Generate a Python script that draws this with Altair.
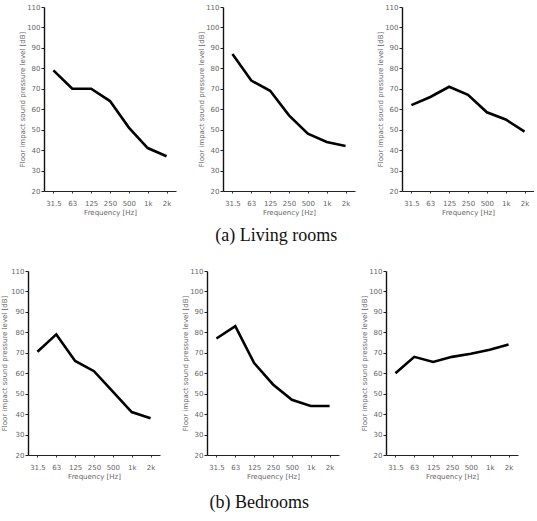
import altair as alt
import pandas as pd

freqs = ["31.5", "63", "125", "250", "500", "1k", "2k"]
living_1 = [79, 70, 70, 64, 51, 41, 37]
living_2 = [87, 74, 69, 57, 48, 44, 42]
living_3 = [62, 66, 71, 67, 58.5, 55, 49]
bedroom_1 = [70.5, 79, 66, 61, 51, 41, 38]
bedroom_2 = [77, 83, 65, 54.5, 47, 44, 44]
bedroom_3 = [60, 68, 65.5, 68, 69.5, 71.5, 74]
y_ticks = [20, 30, 40, 50, 60, 70, 80, 90, 100, 110]
y_title = "Floor impact sound pressure level [dB]"
x_title = "Frequency [Hz]"
captions = ["(a) Living rooms", "(b) Bedrooms"]

series = {"a1": living_1, "a2": living_2, "a3": living_3,
          "b1": bedroom_1, "b2": bedroom_2, "b3": bedroom_3}
rows = []
for key, vals in series.items():
    for f, v in zip(freqs, vals):
        rows.append({"panel": key, "freq": f, "level": v})
df = pd.DataFrame(rows)

W, H = 132, 184


def panel(key, shift=0, title_pad=1):
    return (
        alt.Chart(df)
        .transform_filter(alt.datum.panel == key)
        .mark_line(color="black", strokeWidth=2.6)
        .encode(
            x=alt.X("freq:O", sort=freqs,
                    scale=alt.Scale(type="point", paddingOuter=0.3,
                                    range=[shift, W + shift]),
                    axis=alt.Axis(title=x_title, labelAngle=0, labelFontSize=7,
                                  labelColor="#666", titleFontSize=7,
                                  titleColor="#666", titleFontWeight="normal",
                                  titlePadding=2, tickSize=2, tickColor="#333",
                                  domainColor="#222", labelPadding=6,
                                  grid=False)),
            y=alt.Y("level:Q", scale=alt.Scale(domain=[20, 110], nice=False),
                    axis=alt.Axis(title=y_title, values=y_ticks, labelFontSize=7,
                                  labelColor="#666", titleFontSize=7,
                                  titleColor="#666", titleFontWeight="normal",
                                  titlePadding=title_pad, tickSize=3,
                                  labelPadding=1, offset=-shift,
                                  tickColor="#222", domainColor="#111",
                                  domainWidth=1.4, grid=False)),
        )
        .properties(width=W + shift, height=H)
    )


cap_style = dict(orient="bottom", anchor="middle", font="Liberation Serif",
                 fontSize=18, fontWeight="normal", color="#111")

SHIFT = 16
row_a = alt.hconcat(panel("a1", SHIFT), panel("a2", SHIFT), panel("a3", SHIFT),
                    spacing=21).properties(
    title=alt.TitleParams(captions[0], offset=12, **cap_style))
row_b = alt.hconcat(panel("b1", 0, 3), panel("b2"), panel("b3"),
                    spacing=21).properties(
    title=alt.TitleParams(captions[1], offset=15, **cap_style))

chart = (
    alt.concat(row_a, row_b, columns=1, align="none", spacing=22)
    .properties(padding={"left": 0, "top": 3, "right": 0, "bottom": 0})
    .configure(font="DejaVu Sans")
    .configure_view(strokeWidth=0, stroke="transparent")
    .configure_axis(grid=False)
)

chart.save("out.html", embed_options={"renderer": "svg", "actions": False})
